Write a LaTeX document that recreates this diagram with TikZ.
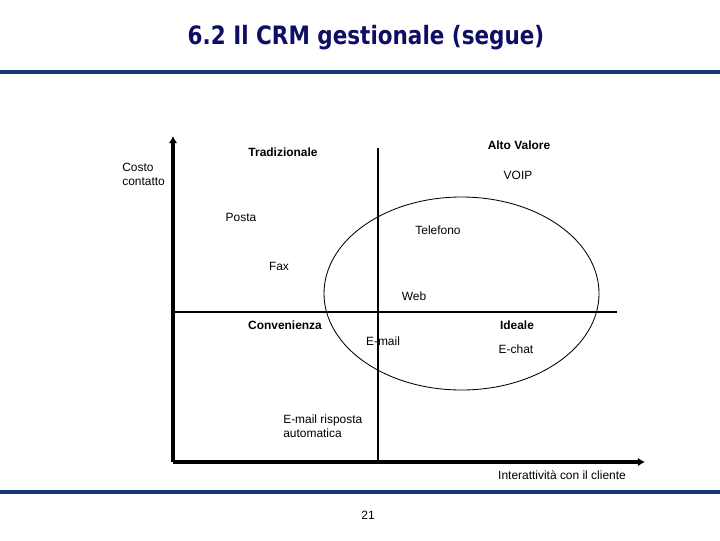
\documentclass[tikz,border=0pt]{standalone}
\usepackage{fontspec}
\setmainfont{Liberation Sans}
\newfontfamily\titlefont[FakeStretch=0.85]{DejaVu Sans}
\usepackage{xcolor}
\usetikzlibrary{arrows.meta}
\definecolor{slideblue}{RGB}{20,56,122}
\definecolor{titlenavy}{RGB}{14,14,100}

\begin{document}
\begin{tikzpicture}[x=0.025cm,y=-0.025cm,
  lbl/.style={font=\fontsize{8.5}{10}\selectfont, inner sep=0pt},
  bld/.style={font=\fontsize{8.5}{10}\selectfont\bfseries, inner sep=0pt},
  axis/.style={line width=2.2pt, -{Latex[length=5pt,width=6pt]}},
  split/.style={line width=2pt}]
\useasboundingbox (0,0) rectangle (720,540);

\node[font=\titlefont\bfseries\fontsize{18}{20}\selectfont, text=titlenavy] (title) at (366,38) {6.2 Il CRM gestionale (segue)};
\draw[slideblue, line width=2.4pt] (0,72) -- (720,72);
\draw[slideblue, line width=2.4pt] (0,492) -- (720,492);

\coordinate (o) at (173,462);
\coordinate (ytop) at (173,136);
\coordinate (xend) at (645,462);
\draw[axis] (o) -- (ytop);
\draw[axis] (o) -- (xend);

\coordinate (vtop) at (378,148);
\coordinate (vbot) at (378,462);
\coordinate (hleft) at (173,312);
\coordinate (hright) at (617,312);
\draw[split] (vtop) -- (vbot);
\draw[split] (hleft) -- (hright);

\draw[line width=0.6pt] (461.5,293.5) ellipse [x radius=137.5, y radius=96.5];

\node[lbl, anchor=west, align=left] (costo) at (122,174) {Costo\\contatto};
\node[bld] (trad) at (283,152) {Tradizionale};
\node[bld] (alto) at (519,145) {Alto Valore};
\node[lbl] (voip) at (518,175) {VOIP};
\node[lbl] (posta) at (241,217) {Posta};
\node[lbl] (tel) at (438,230) {Telefono};
\node[lbl] (fax) at (279,266) {Fax};
\node[lbl] (web) at (414,296) {Web};
\node[bld] (conv) at (285,325) {Convenienza};
\node[bld] (ideale) at (517,325) {Ideale};
\node[lbl] (email) at (383,341) {E-mail};
\node[lbl] (echat) at (516,349) {E-chat};
\node[lbl, anchor=west, align=left] (auto) at (283,426) {E-mail risposta\\automatica};
\node[lbl] (inter) at (562,475) {Interattività con il cliente};
\node[lbl] (page) at (368,515) {21};

\end{tikzpicture}
\end{document}
